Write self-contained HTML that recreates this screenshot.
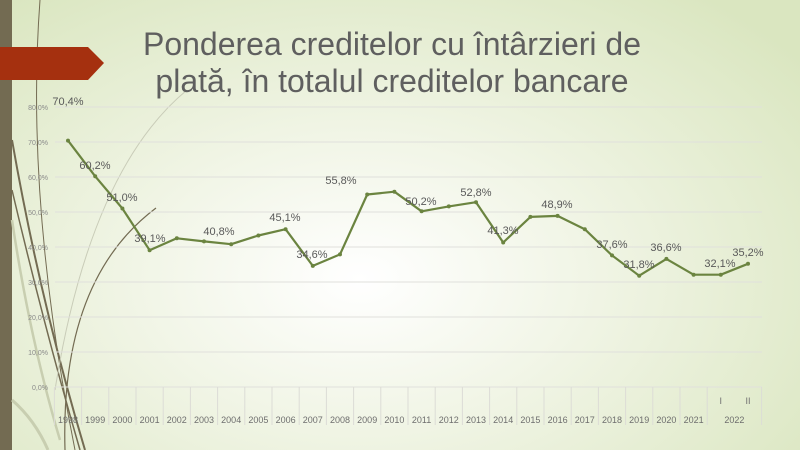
<!DOCTYPE html>
<html><head><meta charset="utf-8"><style>
html,body{margin:0;padding:0;width:800px;height:450px;overflow:hidden}
body{background:radial-gradient(ellipse 70% 80% at 45% 62%,#ffffff 0%,#f1f5e6 40%,#dae6c0 100%);font-family:"Liberation Sans",sans-serif}
</style></head><body>
<svg width="800" height="450" viewBox="0 0 800 450" style="position:absolute;left:0;top:0">
<rect x="0" y="0" width="12" height="450" fill="#736b52"/>
<g fill="none">
<path d="M12 140 Q40 300 85 450" stroke="#736b52" stroke-width="2"/>
<path d="M12 190 Q45 330 80 450" stroke="#736b52" stroke-width="1.5"/>
<path d="M12 400 Q35 420 48 450" stroke="#c8ceb0" stroke-width="3"/>
<path d="M40 0 Q25 200 75 450" stroke="#736b52" stroke-width="1"/>
<path d="M65 450 Q60 280 156 208" stroke="#736b52" stroke-width="1.2"/>
<path d="M55 390 Q90 170 187 90" stroke="#c9ccb8" stroke-width="1"/>
<path d="M12 220 Q30 340 60 440" stroke="#c8ceb0" stroke-width="2.5"/>
</g>
<polygon points="0,47 88,47 104,63 88,80 0,80" fill="#a5300f"/>
<text x="392" y="55" text-anchor="middle" font-size="32" fill="#5f5f5f">Ponderea creditelor cu întârzieri de</text>
<text x="392" y="92" text-anchor="middle" font-size="32" fill="#5f5f5f">plată, în totalul creditelor bancare</text>
<g stroke="#e0e0dc" stroke-width="1">
<line x1="55" x2="762" y1="107" y2="107"/><line x1="55" x2="762" y1="142" y2="142"/>
<line x1="55" x2="762" y1="177" y2="177"/><line x1="55" x2="762" y1="212" y2="212"/>
<line x1="55" x2="762" y1="247" y2="247"/><line x1="55" x2="762" y1="282" y2="282"/>
<line x1="55" x2="762" y1="317" y2="317"/><line x1="55" x2="762" y1="352" y2="352"/>
<line x1="55" x2="762" y1="387" y2="387"/>
</g>
<g stroke="#dcdcd6" stroke-width="1">
<line x1="54.4" x2="54.4" y1="387" y2="425"/><line x1="81.6" x2="81.6" y1="387" y2="425"/>
<line x1="108.8" x2="108.8" y1="387" y2="425"/><line x1="136" x2="136" y1="387" y2="425"/>
<line x1="163.2" x2="163.2" y1="387" y2="425"/><line x1="190.4" x2="190.4" y1="387" y2="425"/>
<line x1="217.6" x2="217.6" y1="387" y2="425"/><line x1="244.8" x2="244.8" y1="387" y2="425"/>
<line x1="272" x2="272" y1="387" y2="425"/><line x1="299.2" x2="299.2" y1="387" y2="425"/>
<line x1="326.4" x2="326.4" y1="387" y2="425"/><line x1="353.6" x2="353.6" y1="387" y2="425"/>
<line x1="380.8" x2="380.8" y1="387" y2="425"/><line x1="408" x2="408" y1="387" y2="425"/>
<line x1="435.2" x2="435.2" y1="387" y2="425"/><line x1="462.4" x2="462.4" y1="387" y2="425"/>
<line x1="489.6" x2="489.6" y1="387" y2="425"/><line x1="516.8" x2="516.8" y1="387" y2="425"/>
<line x1="544" x2="544" y1="387" y2="425"/><line x1="571.2" x2="571.2" y1="387" y2="425"/>
<line x1="598.4" x2="598.4" y1="387" y2="425"/><line x1="625.6" x2="625.6" y1="387" y2="425"/>
<line x1="652.8" x2="652.8" y1="387" y2="425"/><line x1="680" x2="680" y1="387" y2="425"/>
<line x1="707.2" x2="707.2" y1="387" y2="425"/><line x1="761.6" x2="761.6" y1="387" y2="425"/>
</g>
<g font-size="7" fill="#8a8a8a" text-anchor="end">
<text x="48" y="110">80,0%</text><text x="48" y="145">70,0%</text><text x="48" y="180">60,0%</text>
<text x="48" y="215">50,0%</text><text x="48" y="250">40,0%</text><text x="48" y="285">30,0%</text>
<text x="48" y="320">20,0%</text><text x="48" y="355">10,0%</text><text x="48" y="390">0,0%</text>
</g>
<g font-size="9" fill="#6e6e6e" text-anchor="middle">
<text x="68" y="423">1998</text><text x="95.2" y="423">1999</text><text x="122.4" y="423">2000</text>
<text x="149.6" y="423">2001</text><text x="176.8" y="423">2002</text><text x="204" y="423">2003</text>
<text x="231.2" y="423">2004</text><text x="258.4" y="423">2005</text><text x="285.6" y="423">2006</text>
<text x="312.8" y="423">2007</text><text x="340" y="423">2008</text><text x="367.2" y="423">2009</text>
<text x="394.4" y="423">2010</text><text x="421.6" y="423">2011</text><text x="448.8" y="423">2012</text>
<text x="476" y="423">2013</text><text x="503.2" y="423">2014</text><text x="530.4" y="423">2015</text>
<text x="557.6" y="423">2016</text><text x="584.8" y="423">2017</text><text x="612" y="423">2018</text>
<text x="639.2" y="423">2019</text><text x="666.4" y="423">2020</text><text x="693.6" y="423">2021</text>
<text x="734.4" y="423">2022</text><text x="720.8" y="404">I</text><text x="748" y="404">II</text>
</g>
<polyline fill="none" stroke="#6b8440" stroke-width="2.2" stroke-linejoin="round" points="68,140.6 95.2,176.3 122.4,208.5 149.6,250.2 176.8,238.3 204,241.4 231.2,244.2 258.4,235.5 285.6,229.2 312.8,265.9 340,254.4 367.2,194.5 394.4,191.7 421.6,211.3 448.8,206.4 476,202.2 503.2,242.5 530.4,216.9 557.6,215.9 584.8,229.2 612,255.4 639.2,275.7 666.4,258.9 693.6,274.7 720.8,274.7 748,263.8"/>
<g fill="#6b8440">
<circle cx="68" cy="140.6" r="2"/><circle cx="95.2" cy="176.3" r="2"/><circle cx="122.4" cy="208.5" r="2"/><circle cx="149.6" cy="250.2" r="2"/><circle cx="176.8" cy="238.3" r="2"/><circle cx="204" cy="241.4" r="2"/><circle cx="231.2" cy="244.2" r="2"/><circle cx="258.4" cy="235.5" r="2"/><circle cx="285.6" cy="229.2" r="2"/><circle cx="312.8" cy="265.9" r="2"/><circle cx="340" cy="254.4" r="2"/><circle cx="367.2" cy="194.5" r="2"/><circle cx="394.4" cy="191.7" r="2"/><circle cx="421.6" cy="211.3" r="2"/><circle cx="448.8" cy="206.4" r="2"/><circle cx="476" cy="202.2" r="2"/><circle cx="503.2" cy="242.5" r="2"/><circle cx="530.4" cy="216.9" r="2"/><circle cx="557.6" cy="215.9" r="2"/><circle cx="584.8" cy="229.2" r="2"/><circle cx="612" cy="255.4" r="2"/><circle cx="639.2" cy="275.7" r="2"/><circle cx="666.4" cy="258.9" r="2"/><circle cx="693.6" cy="274.7" r="2"/><circle cx="720.8" cy="274.7" r="2"/><circle cx="748" cy="263.8" r="2"/>
</g>
<g font-size="11" fill="#595959" text-anchor="middle">
<text x="68" y="105">70,4%</text><text x="95" y="169">60,2%</text><text x="122" y="201">51,0%</text>
<text x="150" y="242">39,1%</text><text x="219" y="235">40,8%</text><text x="285" y="221">45,1%</text>
<text x="312" y="258">34,6%</text><text x="341" y="184">55,8%</text><text x="421" y="205">50,2%</text>
<text x="476" y="196">52,8%</text><text x="503" y="234">41,3%</text><text x="557" y="208">48,9%</text>
<text x="612" y="248">37,6%</text><text x="639" y="268">31,8%</text><text x="666" y="251">36,6%</text>
<text x="720" y="267">32,1%</text><text x="748" y="256">35,2%</text>
</g>
</svg>
</body></html>
